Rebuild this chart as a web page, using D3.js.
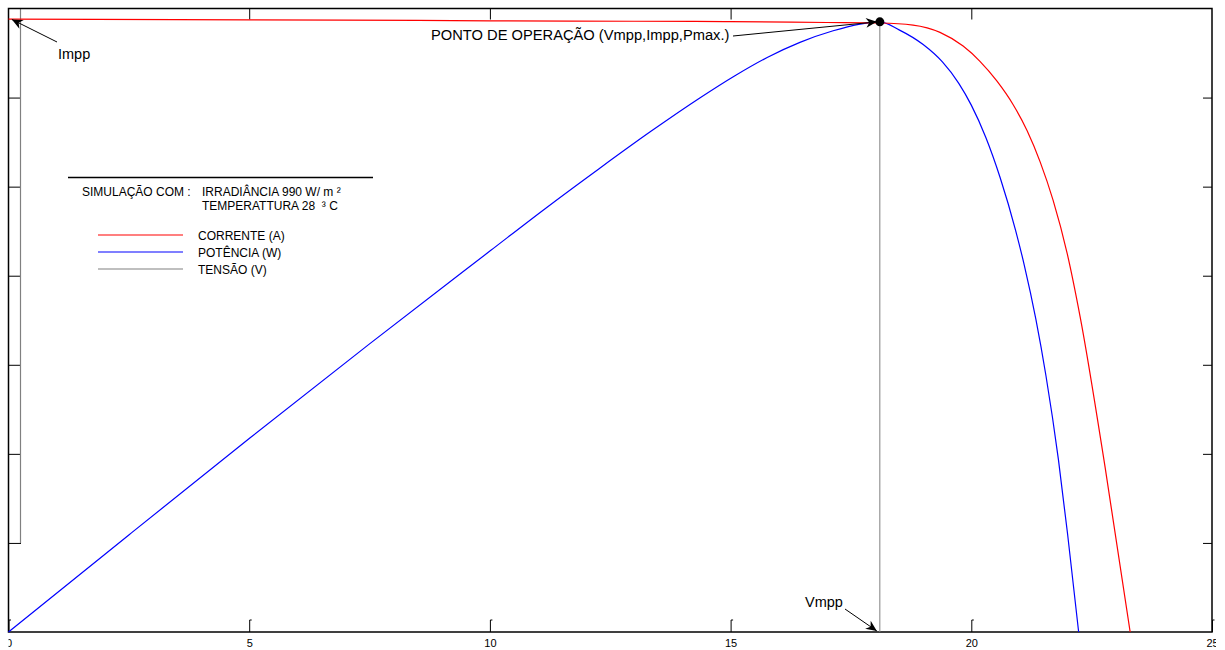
<!DOCTYPE html>
<html>
<head>
<meta charset="utf-8">
<script src="https://cdn.jsdelivr.net/npm/d3@7"></script>
<style>
  body { margin: 0; background: #fff; }
  svg text { font-family: Arial, "Liberation Sans", sans-serif; fill: #000; white-space: pre; }
</style>
</head>
<body>
<div id="chart"></div>
<script>
// curve data
var correnteV = [0, 1.8, 5, 8.5, 10, 13, 15, 17, 18.10, 18.79, 19.35, 19.83, 20.18, 20.53, 20.87, 21.16, 21.43, 21.70, 21.99, 22.26, 22.78, 23.30];
var correnteA = [6.88, 6.878, 6.872, 6.866, 6.862, 6.857, 6.853, 6.843, 6.837, 6.814, 6.732, 6.578, 6.407, 6.187, 5.920, 5.627, 5.278, 4.845, 4.254, 3.541, 1.848, 0];

var potenciaV = [0, 2.5, 5.02, 7.5, 10.02, 11.14, 12.29, 13.33, 14.36, 15.09, 15.76, 16.44, 17.13, 17.69, 18.10, 18.5, 19.0, 19.4, 19.74, 20.0, 20.3, 20.6, 20.92, 21.1, 21.34, 21.55, 21.81, 22.0, 22.23];
var potenciaW = [0, 21.8, 43.6, 64.7, 85.7, 95.0, 104.2, 112.3, 119.9, 124.9, 129.0, 132.4, 135.0, 136.5, 137.0, 135.2, 131.9, 128.0, 123.2, 118.3, 111.1, 102.0, 90.2, 82.4, 70.3, 57.6, 38.7, 22.0, 0];

var xTicks = [0, 5, 10, 15, 20, 25];
var yTicks = [1, 2, 3, 4, 5, 6];

var vmpp = 18.10, impp = 6.837, pmax = 137.0;

var legendItems = [
  {label: "CORRENTE (A)", color: "#ff0000"},
  {label: "POTÊNCIA (W)", color: "#0000ff"},
  {label: "TENSÃO (V)", color: "#808080"}
];

var W = 1225, H = 650;
var pLeft = 8.5, pRight = 1212, pTop = 8.5, pBottom = 632;

var svg = d3.select("#chart").append("svg")
  .attr("width", W).attr("height", H);

var x = d3.scaleLinear().domain([0, 25]).range([pLeft, pRight]);
var yCur = d3.scaleLinear().domain([0, 7]).range([pBottom, pTop]);
var yPow = d3.scaleLinear().domain([0, 140]).range([pBottom, pTop]);

var defs = svg.append("defs");
defs.append("clipPath").attr("id", "lblclip")
  .append("rect").attr("x", pLeft).attr("y", -20).attr("width", 1216 - pLeft).attr("height", H);

defs.append("marker")
  .attr("id", "arrow").attr("viewBox", "-1 -5 12 10")
  .attr("refX", 10).attr("refY", 0)
  .attr("markerWidth", 13).attr("markerHeight", 11)
  .attr("markerUnits", "userSpaceOnUse")
  .attr("orient", "auto")
  .append("path").attr("d", "M0,-4.5 L10,0 L0,4.5 L3,0 Z").attr("fill", "#000");

// axes (ticks inside the frame)
var gx = svg.append("g").attr("transform", "translate(0," + pBottom + ")")
  .attr("clip-path", "url(#lblclip)")
  .call(d3.axisBottom(x).tickValues(xTicks).tickSizeInner(-12).tickSizeOuter(0).tickPadding(7));
gx.selectAll(".tick").append("line")
  .attr("x1", 0).attr("x2", 2).attr("y1", -12).attr("y2", -12).attr("stroke", "#000");

var gt = svg.append("g").attr("transform", "translate(0," + pTop + ")")
  .call(d3.axisTop(x).tickValues(xTicks.slice(1, 5)).tickSizeInner(-11).tickSizeOuter(0).tickFormat(""));

var gl = svg.append("g").attr("transform", "translate(" + pLeft + ",0)")
  .call(d3.axisLeft(yCur).tickValues(yTicks).tickSizeInner(-12.5).tickSizeOuter(0).tickFormat(""));

var gr = svg.append("g").attr("transform", "translate(" + pRight + ",0)")
  .call(d3.axisRight(yCur).tickValues(yTicks).tickSizeInner(-9).tickSizeOuter(0).tickFormat(""));

[gx, gt, gl, gr].forEach(function(g) {
  g.select(".domain").remove();
  g.selectAll(".tick line").attr("stroke", "#000").attr("stroke-width", 1);
});
gx.selectAll("text").attr("font-size", 11).attr("fill", "#000");

// grey secondary axis line on the left
svg.append("line")
  .attr("x1", pLeft + 12).attr("x2", pLeft + 12)
  .attr("y1", pTop).attr("y2", yCur(1))
  .attr("stroke", "#808080").attr("stroke-width", 1.2);

// frame
svg.append("rect")
  .attr("x", pLeft).attr("y", pTop)
  .attr("width", pRight - pLeft).attr("height", pBottom - pTop)
  .attr("fill", "none").attr("stroke", "#000").attr("stroke-width", 1.5);

// tensão: vertical at Vmpp
svg.append("line")
  .attr("x1", x(vmpp)).attr("x2", x(vmpp))
  .attr("y1", yPow(pmax)).attr("y2", pBottom)
  .attr("stroke", "#808080").attr("stroke-width", 1);

var lineCur = d3.line()
  .x(function(d, i) { return x(correnteV[i]); })
  .y(function(d) { return yCur(d); })
  .curve(d3.curveMonotoneX);

var linePow = d3.line()
  .x(function(d, i) { return x(potenciaV[i]); })
  .y(function(d) { return yPow(d); })
  .curve(d3.curveMonotoneX);

svg.append("path").attr("d", linePow(potenciaW))
  .attr("fill", "none").attr("stroke", "#0000ff").attr("stroke-width", 1.2);

svg.append("path").attr("d", lineCur(correnteA))
  .attr("fill", "none").attr("stroke", "#ff0000").attr("stroke-width", 1.2);

// operating point
svg.append("circle")
  .attr("cx", x(vmpp)).attr("cy", yPow(pmax)).attr("r", 4.5).attr("fill", "#000");

// annotations
svg.append("line")
  .attr("x1", 733).attr("y1", 36)
  .attr("x2", x(vmpp) - 3).attr("y2", yPow(pmax))
  .attr("stroke", "#000").attr("stroke-width", 1)
  .attr("marker-end", "url(#arrow)");
svg.append("text").attr("x", 431).attr("y", 40).attr("font-size", 14.7)
  .text("PONTO DE OPERAÇÃO (Vmpp,Impp,Pmax.)");

svg.append("line")
  .attr("x1", 57).attr("y1", 42)
  .attr("x2", x(0.07)).attr("y2", yCur(impp + 0.04))
  .attr("stroke", "#000").attr("stroke-width", 1)
  .attr("marker-end", "url(#arrow)");
svg.append("text").attr("x", 58).attr("y", 59).attr("font-size", 14.5).text("Impp");

svg.append("line")
  .attr("x1", 845).attr("y1", 609)
  .attr("x2", x(vmpp) - 3).attr("y2", pBottom - 1)
  .attr("stroke", "#000").attr("stroke-width", 1)
  .attr("marker-end", "url(#arrow)");
svg.append("text").attr("x", 805).attr("y", 607).attr("font-size", 14.5).text("Vmpp");

// legend block
var lg = svg.append("g");
lg.append("line").attr("x1", 68).attr("x2", 373).attr("y1", 177.5).attr("y2", 177.5)
  .attr("stroke", "#000").attr("stroke-width", 1.5);
lg.append("text").attr("x", 82).attr("y", 196).attr("font-size", 12).text("SIMULAÇÃO COM :");
lg.append("text").attr("x", 202).attr("y", 196).attr("font-size", 12).text("IRRADIÂNCIA 990 W/ m ²");
lg.append("text").attr("x", 202).attr("y", 210).attr("font-size", 12).text("TEMPERATTURA 28  ³ C");

var items = lg.selectAll("g.item").data(legendItems).enter().append("g").attr("class", "item")
  .attr("transform", function(d, i) { return "translate(0," + (235 + i * 17) + ")"; });
items.append("line").attr("x1", 98).attr("x2", 183).attr("y1", 0).attr("y2", 0)
  .attr("stroke", function(d) { return d.color; }).attr("stroke-width", 1.2);
items.append("text").attr("x", 198).attr("y", 4.5).attr("font-size", 12)
  .text(function(d) { return d.label; });
</script>
</body>
</html>
